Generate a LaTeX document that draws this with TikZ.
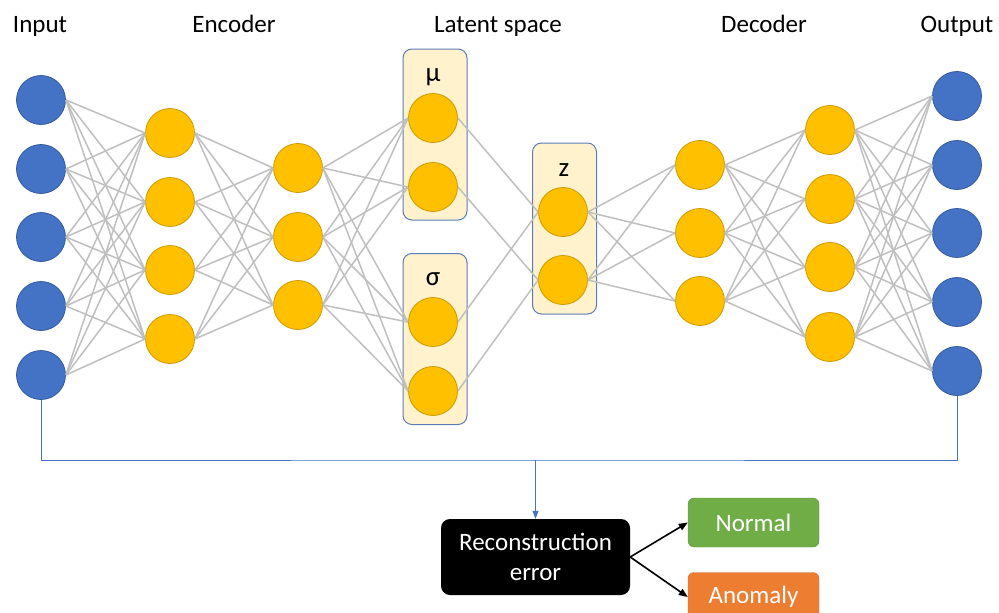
\documentclass[tikz,border=0pt]{standalone}
\usepackage{fontspec}
\setmainfont{Carlito}
\usetikzlibrary{arrows.meta}
\definecolor{inblue}{HTML}{4472C4}
\definecolor{gold}{HTML}{FFC000}
\definecolor{latfill}{HTML}{FFF2CC}
\definecolor{latline}{HTML}{5B7CB8}
\definecolor{wiregray}{HTML}{BFBFBF}
\definecolor{okgreen}{HTML}{70AD47}
\definecolor{badorange}{HTML}{ED7D31}

\begin{document}
\begin{tikzpicture}[x=1pt,y=-1pt,
    neuron/.style={circle,minimum size=49pt,inner sep=0pt,line width=0.8pt,draw=#1!80!black,fill=#1},
    latent/.style={rounded corners=9pt,minimum width=64pt,minimum height=171pt,fill=latfill,draw=latline,line width=1pt},
    wire/.style={wiregray,line width=1.5pt},
    title/.style={anchor=base,font=\fontsize{25}{30}\selectfont},
    result/.style={rounded corners=6pt,minimum width=131pt,minimum height=49pt,text=white,font=\fontsize{25}{30}\selectfont,draw=#1!85!black,fill=#1}]
    \useasboundingbox (0,0) rectangle (999,613);
    \node[title] (tin) at (40,32) {Input};
    \node[title] (tenc) at (234,32) {Encoder};
    \node[title] (tlat) at (498,32) {Latent space};
    \node[title] (tdec) at (764,32) {Decoder};
    \node[title] (tout) at (957,32) {Output};
    \node[latent] (mubox) at (435,134.5) {};
    \node[latent] (sigbox) at (435,339) {};
    \node[latent] (zbox) at (564.5,228.5) {};
    \node[title,font=\fontsize{27}{30}\selectfont] (mulab) at (433,81) {μ};
    \node[title,font=\fontsize{27}{30}\selectfont] (siglab) at (433,285) {σ};
    \node[title,font=\fontsize{27}{30}\selectfont] (zlab) at (564,176) {z};
    \foreach \y [count=\i] in {100,169,237,306,375} \node[neuron=inblue] (in\i) at (41,\y) {};
    \foreach \y [count=\i] in {133,202,270,339} \node[neuron=gold] (enA\i) at (170,\y) {};
    \foreach \y [count=\i] in {168,237,305} \node[neuron=gold] (enB\i) at (298,\y) {};
    \node[neuron=gold] (mu1) at (433,118) {};
    \node[neuron=gold] (mu2) at (433,187) {};
    \node[neuron=gold] (sig1) at (433,322) {};
    \node[neuron=gold] (sig2) at (433,391) {};
    \node[neuron=gold] (z1) at (563,212) {};
    \node[neuron=gold] (z2) at (563,280) {};
    \foreach \y [count=\i] in {165,233,301} \node[neuron=gold] (deA\i) at (700,\y) {};
    \foreach \y [count=\i] in {130,199,267,337} \node[neuron=gold] (deB\i) at (830,\y) {};
    \foreach \y [count=\i] in {96,165,233,302,371} \node[neuron=inblue] (out\i) at (957,\y) {};
    \foreach \i in {1,...,5} \foreach \j in {1,...,4} \draw[wire] (in\i.east) -- (enA\j.west);
    \foreach \i in {1,...,4} \foreach \j in {1,...,3} \draw[wire] (enA\i.east) -- (enB\j.west);
    \foreach \i in {1,2,3} \foreach \j in {mu1,mu2,sig1,sig2} \draw[wire] (enB\i.east) -- (\j.west);
    \foreach \i in {1,2} {
        \draw[wire] (mu\i.east) -- (z\i.west);
        \draw[wire] (sig\i.east) -- (z\i.west);
        \foreach \j in {1,2,3} \draw[wire] (z\i.east) -- (deA\j.west);
    }
    \foreach \i in {1,2,3} \foreach \j in {1,...,4} \draw[wire] (deA\i.east) -- (deB\j.west);
    \foreach \i in {1,...,4} \foreach \j in {1,...,5} \draw[wire] (deB\i.east) -- (out\j.west);
    \node[rounded corners=9pt,minimum width=189pt,minimum height=76pt,fill=black,text=white,align=center,font=\fontsize{25}{30}\selectfont] (err) at (535.5,557) {Reconstruction\\error};
    \node[result=okgreen] (normal) at (753.5,522.5) {Normal};
    \node[result=badorange] (anomaly) at (753.5,597) {Anomaly};
    \coordinate (bus) at (err.north |- 0,460);
    \draw[inblue,line width=1pt] (in5.south) |- (bus) -| (out5.south);
    \draw[inblue,line width=1pt,-{Triangle[length=8pt,width=6pt]}] (bus) -- (err.north);
    \draw[line width=1.6pt,-{Triangle[length=9pt,width=7pt]}] (err.east) -- (normal.west);
    \draw[line width=1.6pt,-{Triangle[length=9pt,width=7pt]}] (err.east) -- (anomaly.west);
\end{tikzpicture}
\end{document}
